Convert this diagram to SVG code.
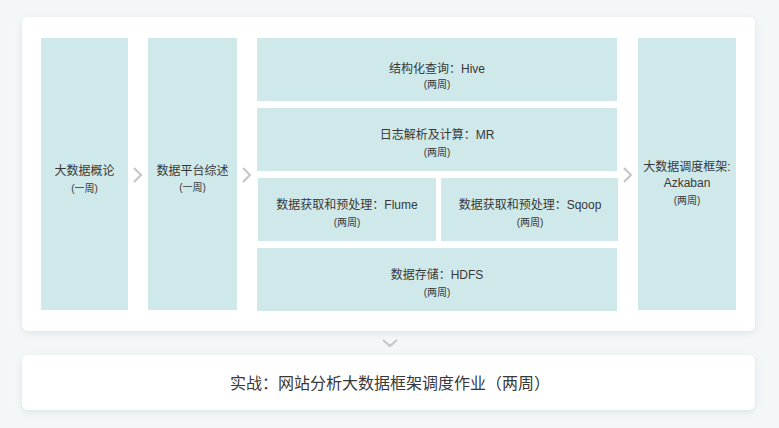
<svg xmlns="http://www.w3.org/2000/svg" width="779" height="428" viewBox="0 0 779 428">
<style>
.panel{fill:#ffffff}
.box{fill:#cfe8ea}
.t{font-family:"Liberation Sans","Noto Sans CJK SC",sans-serif;font-size:12px;fill:#383838;text-anchor:middle}
.s{font-family:"Liberation Sans","Noto Sans CJK SC",sans-serif;font-size:10px;fill:#383838;text-anchor:middle}
.b{font-family:"Liberation Sans","Noto Sans CJK SC",sans-serif;font-size:16px;fill:#383838;text-anchor:middle}
.chev{fill:none;stroke:#c4c8ca;stroke-width:2.2}
</style>
<defs>
<filter id="sh" x="-5%" y="-10%" width="110%" height="130%">
<feDropShadow dx="0" dy="2" stdDeviation="3" flood-color="#9aa9ad" flood-opacity="0.25"/>
</filter>
</defs>
<rect x="0" y="0" width="779" height="428" fill="#f3f7f8"/>
<rect class="panel" x="22" y="17" width="733" height="314" rx="6" filter="url(#sh)"/>
<rect class="panel" x="22" y="355" width="733" height="55" rx="6" filter="url(#sh)"/>

<g id="n1"><rect class="box" x="41" y="38" width="87" height="272"/>
<text class="t" x="84.5" y="175">大数据概论</text><text class="s" x="84.5" y="192">(一周)</text></g>
<g id="n2"><rect class="box" x="148" y="38" width="89" height="272"/>
<text class="t" x="192.5" y="175">数据平台综述</text><text class="s" x="192.5" y="191">(一周)</text></g>
<g id="n3"><rect class="box" x="257" y="38" width="360" height="63"/>
<text class="t" x="437" y="73">结构化查询：Hive</text><text class="s" x="437" y="88">(两周)</text></g>
<g id="n4"><rect class="box" x="257" y="108" width="360" height="63"/>
<text class="t" x="437" y="139">日志解析及计算：MR</text><text class="s" x="437" y="156">(两周)</text></g>
<g id="n5"><rect class="box" x="258" y="178" width="178" height="63"/>
<text class="t" x="347" y="209">数据获取和预处理：Flume</text><text class="s" x="347" y="226">(两周)</text></g>
<g id="n6"><rect class="box" x="441" y="178" width="177" height="63"/>
<text class="t" x="530" y="209">数据获取和预处理：Sqoop</text><text class="s" x="530" y="226">(两周)</text></g>
<g id="n7"><rect class="box" x="257" y="248" width="360" height="63"/>
<text class="t" x="437" y="279">数据存储：HDFS</text><text class="s" x="437" y="296">(两周)</text></g>
<g id="n8"><rect class="box" x="638" y="38" width="98" height="272"/>
<text class="t" x="687" y="171">大数据调度框架:</text><text class="t" x="687" y="187">Azkaban</text><text class="s" x="687" y="204">(两周)</text></g>
<g id="n9"><text class="b" x="390" y="389">实战：网站分析大数据框架调度作业（两周）</text></g>

<g id="connectors">
<polyline class="chev" points="134,168 141,175 134,182"/>
<polyline class="chev" points="243,168 250,175 243,182"/>
<polyline class="chev" points="624,168 631,175 624,182"/>
<polyline class="chev" points="383,340 390,346 397,340"/>
</g>
</svg>
